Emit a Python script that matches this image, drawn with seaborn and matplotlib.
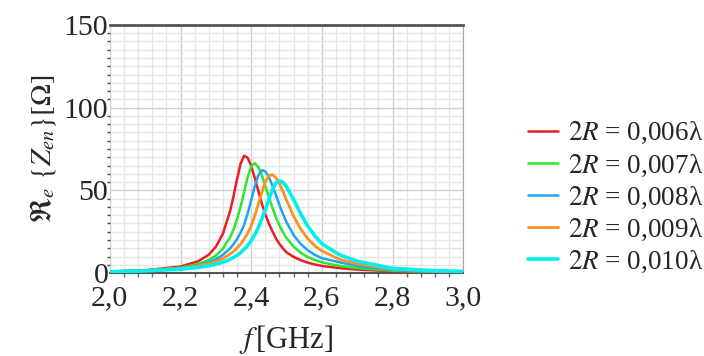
import matplotlib
matplotlib.use("Agg")
import matplotlib.pyplot as plt
import matplotlib.ticker as mticker
import seaborn as sns
import pandas as pd

# frequency axis [GHz]
freq = [2.00, 2.10, 2.20, 2.25, 2.28, 2.30, 2.32, 2.34, 2.35, 2.36, 2.37,
        2.38, 2.39, 2.40, 2.41, 2.42, 2.43, 2.44, 2.45, 2.46, 2.47, 2.48,
        2.49, 2.50, 2.52, 2.54, 2.56, 2.58, 2.60, 2.65, 2.70, 2.80, 2.90, 3.00]

# Re{Zen} [Ohm]
z_006 = [0.9, 1.7, 3.9, 7.1, 11.1, 15.9, 23.8, 37.2, 46.4, 56.8, 66.1,
         70.9, 69.7, 64.8, 57.6, 49.7, 42.1, 35.5, 29.9, 25.3, 21.0, 17.6,
         14.8, 12.5, 9.8, 7.8, 6.3, 5.2, 4.3, 3.0, 2.1, 1.1, 0.7, 0.5]
z_007 = [0.9, 1.5, 3.2, 5.4, 7.9, 10.6, 14.7, 21.5, 26.3, 32.5, 40.1,
         49.0, 57.9, 64.5, 66.4, 64.1, 59.2, 52.8, 46.0, 39.5, 33.7, 28.8,
         24.6, 21.2, 16.0, 12.3, 9.7, 7.9, 6.5, 4.3, 3.0, 1.4, 0.8, 0.5]
z_008 = [0.9, 1.5, 3.0, 4.7, 6.5, 8.4, 11.0, 14.8, 17.4, 20.6, 24.4,
         29.2, 36.0, 44.0, 52.4, 59.0, 62.2, 61.4, 58.1, 53.0, 47.1, 41.2,
         35.6, 30.7, 23.0, 17.6, 13.8, 11.0, 9.0, 6.5, 4.3, 1.8, 1.0, 0.6]
z_009 = [0.9, 1.5, 2.8, 4.3, 5.7, 7.0, 8.9, 11.4, 13.1, 15.1, 17.5,
         20.5, 24.0, 28.6, 34.6, 41.5, 48.6, 55.0, 58.9, 59.5, 57.6, 54.0,
         49.3, 44.1, 34.4, 26.6, 20.8, 16.5, 13.4, 8.3, 5.6, 2.3, 1.3, 0.8]
z_010 = [0.8, 1.3, 2.3, 3.4, 4.4, 5.3, 6.6, 8.3, 9.4, 10.7, 12.3,
         14.3, 16.6, 19.5, 23.1, 27.4, 32.6, 38.4, 44.6, 50.4, 54.5, 55.8,
         54.8, 52.2, 44.4, 35.8, 28.4, 22.5, 17.8, 11.0, 7.2, 2.8, 1.6, 1.0]

labels = [r"$\mathit{2R}$ = 0,006λ", r"$\mathit{2R}$ = 0,007λ",
          r"$\mathit{2R}$ = 0,008λ", r"$\mathit{2R}$ = 0,009λ",
          r"$\mathit{2R}$ = 0,010λ"]
colors = ["#ec1c24", "#2ee62e", "#1ea5f2", "#f7941d", "#00f0f0"]
widths = [1.8, 1.8, 1.8, 2.0, 2.6]

rows = []
for lab, vals in zip(labels, [z_006, z_007, z_008, z_009, z_010]):
    for f, z in zip(freq, vals):
        rows.append({"f": f, "z": z, "serie": lab})
df = pd.DataFrame(rows)

sns.set_style("white")
plt.rcParams["font.family"] = ["Liberation Serif", "DejaVu Serif"]
plt.rcParams["mathtext.fontset"] = "stix"

fig = plt.figure(figsize=(7.04, 3.56), dpi=100)
ax = fig.add_axes([0.156, 0.233, 0.502, 0.697])

for lab, col, lw in zip(labels, colors, widths):
    sns.lineplot(data=df[df["serie"] == lab], x="f", y="z", color=col,
                 lw=lw, label=lab, ax=ax, zorder=3)

ax.set_xlim(2.0, 3.0)
ax.set_ylim(0, 150)
ax.xaxis.set_major_locator(mticker.MultipleLocator(0.2))
ax.xaxis.set_minor_locator(mticker.MultipleLocator(0.04))
ax.yaxis.set_major_locator(mticker.MultipleLocator(50))
ax.yaxis.set_minor_locator(mticker.MultipleLocator(5))
ax.xaxis.set_major_formatter(mticker.FuncFormatter(lambda v, p: f"{v:.1f}".replace(".", ",")))

ax.grid(which="major", color="#cfcfcf", lw=1.0)
ax.grid(which="minor", color="#e6e6e6", lw=1.0)
ax.set_axisbelow(True)

ax.tick_params(axis="both", which="major", labelsize=21.5, length=0)
ax.tick_params(axis="x", which="major", pad=9)
ax.tick_params(axis="y", which="major", pad=1)
ax.tick_params(axis="y", which="minor", left=True, length=2, width=1, color="#444444")
ax.tick_params(axis="x", which="minor", bottom=True, length=3, width=1, color="#666666")

ax.spines["left"].set_visible(False)
ax.spines["top"].set_color("#555555")
ax.spines["top"].set_linewidth(2)
ax.spines["bottom"].set_color("#555555")
ax.spines["bottom"].set_linewidth(1.5)
ax.spines["right"].set_color("#aaaaaa")

ax.set_xlabel(r"$f\,$[GHz]", fontsize=22, labelpad=8)
ax.set_ylabel(r"$\Re_e\ \{Z_{en}\}[\Omega]$", fontsize=21, labelpad=4)

ax.legend(loc="center left", bbox_to_anchor=(1.114, 0.304), frameon=False,
          fontsize=19.5, handlelength=1.1, handletextpad=0.37, labelspacing=0.22)

fig.savefig("out.png", dpi=100)
